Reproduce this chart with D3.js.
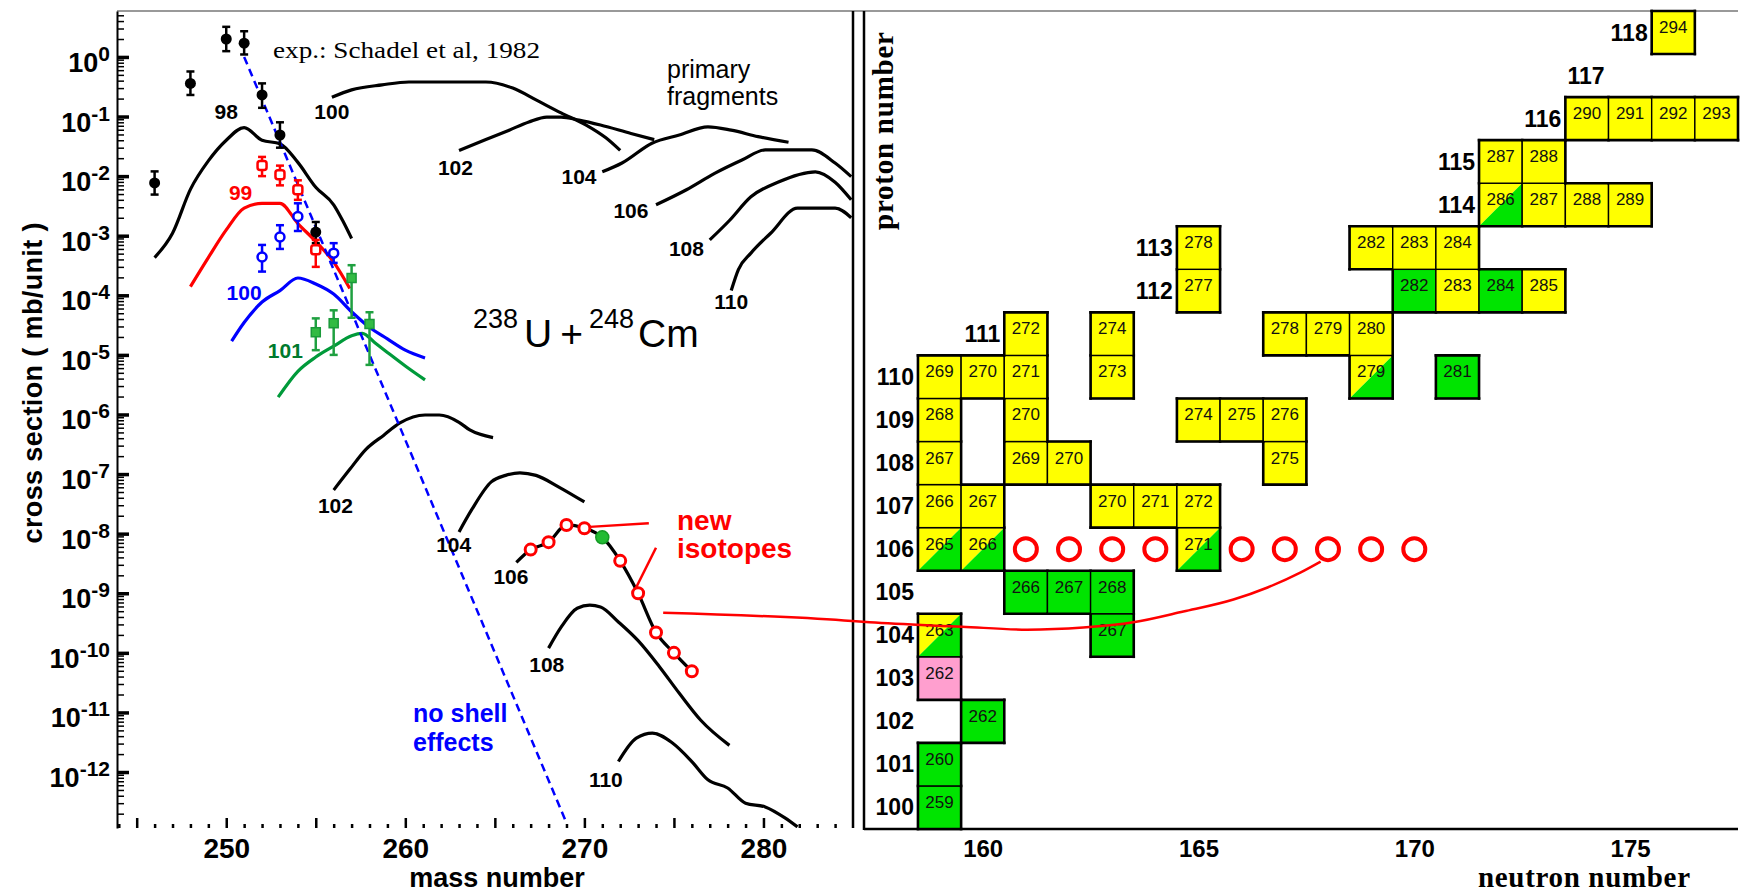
<!DOCTYPE html>
<html>
<head>
<meta charset="utf-8">
<script src="https://cdn.jsdelivr.net/npm/d3@7"></script>
<style>
  body { margin: 0; background: #fff; }
  svg { display: block; }
</style>
</head>
<body>
<div id="chart"></div>
<script>
// ---- left panel: model curves, [mass number, cross section (mb)] ----
const calc98 = [[246,4.3e-4],[247,1.1e-3],[248,6e-3],[249,1.8e-2],[250,4e-2],[251,6.5e-2],[252,4e-2],[253,3.5e-2],[254,1.7e-2],[255,6.5e-3],[256,3.3e-3],[256.5,1.8e-3],[257,9e-4]];
const calc99 = [[248,1.4e-4],[249,4.3e-4],[250,1.25e-3],[251,2.9e-3],[252,3.5e-3],[253,3.5e-3],[254,1.6e-3],[255,8e-4],[256,3.6e-4],[256.9,1.3e-4]];
const calc100 = [[250.3,1.7e-5],[251,3.5e-5],[252,7.7e-5],[253,1.2e-4],[254,1.95e-4],[255,1.55e-4],[256,1.05e-4],[257,5.3e-5],[258,2.9e-5],[259,1.85e-5],[260,1.2e-5],[261.1,8.9e-6]];
const calc101 = [[252.9,1.95e-6],[254,5.3e-6],[255,9.2e-6],[256,1.4e-5],[257,2.1e-5],[257.6,2.3e-5],[258.3,1.6e-5],[259,1.1e-5],[260,6.5e-6],[261.1,3.8e-6]];
const calc102 = [[256,5.4e-8],[256.9,1.2e-7],[257.8,2.6e-7],[258.8,4.5e-7],[259.7,7.2e-7],[261.1,9.8e-7],[261.9,9.8e-7],[263,7.4e-7],[263.6,5.5e-7],[264.9,4.1e-7]];
const calc104 = [[263,1.07e-8],[263.7,2.5e-8],[264.8,7.4e-8],[265.6,9.5e-8],[266.4,1.05e-7],[267.3,9.5e-8],[268.6,6e-8],[270,3.4e-8]];
const calc106 = [[266.2,3.3e-9],[267,5.4e-9],[268,7.2e-9],[269,1.4e-8],[270,1.23e-8],[271,8.7e-9],[272,3.5e-9],[273,1e-9],[274,2.2e-10],[275,1e-10],[276,4.9e-11]];
const calc108 = [[268,1.2e-10],[268.7,2.7e-10],[269.6,5.6e-10],[270.3,6.3e-10],[270.9,5.9e-10],[271.9,3.3e-10],[273,1.6e-10],[274.2,5.8e-11],[275.3,2.1e-11],[276.5,7.4e-12],[278.1,2.8e-12]];
const calc110 = [[271.9,1.5e-12],[272.9,3.7e-12],[273.8,4.5e-12],[274.9,3.1e-12],[276,1.5e-12],[276.9,7.4e-13],[278,5.4e-13],[279,3e-13],[280.1,2.6e-13],[281.2,1.7e-13],[281.9,1.2e-13]];

// primary fragments
const prim100 = [[255.9,0.21],[257,0.28],[258.7,0.34],[260.2,0.38],[264.5,0.38],[266,0.3],[267.3,0.19],[268.7,0.115],[270.1,0.072],[271.2,0.044],[272,0.027]];
const prim102 = [[263,0.027],[264.5,0.041],[265.8,0.059],[266.9,0.081],[267.9,0.098],[268.7,0.098],[269.7,0.087],[270.9,0.072],[272.6,0.052],[273.9,0.041]];
const prim104 = [[271,0.0118],[272.1,0.0166],[273.8,0.036],[275.3,0.049],[276.9,0.067],[278.2,0.059],[279.7,0.046],[281.4,0.037]];
const prim106 = [[274,3.3e-3],[275.7,5.9e-3],[277.3,0.0112],[278.8,0.0186],[280.1,0.0275],[282.7,0.0275],[284,0.0166],[284.9,9.8e-3]];
const prim108 = [[277,8.5e-4],[278.1,1.8e-3],[279.3,4.5e-3],[280.8,7.9e-3],[282.9,0.0118],[284,7.9e-3],[284.9,4e-3]];
const prim110 = [[278.2,1.2e-4],[278.6,2.7e-4],[279.3,5.1e-4],[280.4,1.1e-3],[281.9,2.9e-3],[284,2.9e-3],[284.9,2e-3]];

const noShell = [[251,1.0],[269,1.4e-13]];

// experiment (Schadel et al 1982): [mass, value, low, high]
const expCf = [[246,7.7e-3,4.9e-3,1.2e-2],[248,0.36,0.23,0.57],[250,2.0,1.25,3.2],[251,1.7,1.1,2.7],[252,0.23,0.14,0.36],[253,0.049,0.03,0.08],[255,1.15e-3,7.5e-4,1.7e-3]];
const expEs = [[252,1.5e-2,1.0e-2,2.1e-2],[253,1.05e-2,7e-3,1.5e-2],[254,5.9e-3,4e-3,8.5e-3],[255,5.8e-4,3e-4,8.5e-4]];
const expFm = [[252,4.4e-4,2.5e-4,7e-4],[253,9.5e-4,6e-4,1.5e-3],[254,2.1e-3,1.2e-3,3.5e-3],[256,5.1e-4,3.5e-4,7.5e-4]];
const expMd = [[255,2.4e-5,1.2e-5,4.1e-5],[256,3.4e-5,1.0e-5,5.6e-5],[257,1.95e-4,4.2e-5,3.2e-4],[258,3.3e-5,6.8e-6,5.2e-5]];

// Z=106 isotopes on the curve
const newIsotopes = [[267,5.4e-9],[268,7.2e-9],[269,1.4e-8],[270,1.23e-8],[272,3.5e-9],[273,1e-9],[274,2.2e-10],[275,1e-10],[276,4.9e-11]];
const knownSg = [[271,8.7e-9]];

// curve labels: [mass, value, text, colour]
const curveLabels = [
  [250.0,0.12,'98','#000'],[255.9,0.12,'100','#000'],[262.8,0.014,'102','#000'],
  [269.7,9.7e-3,'104','#000'],[272.6,2.7e-3,'106','#000'],[275.7,6e-4,'108','#000'],
  [278.2,7.8e-5,'110','#000'],
  [250.8,5.4e-3,'99','#ff0000'],[251.0,1.1e-4,'100','#0000ff'],[253.3,1.2e-5,'101','#007a2e'],
  [256.1,3e-8,'102','#000'],[262.7,6.5e-9,'104','#000'],[265.9,1.9e-9,'106','#000'],
  [267.9,6.3e-11,'108','#000'],[271.2,7.4e-13,'110','#000']
];

const massTicksMajor = [245,250,255,260,265,270,275,280];
const massTickLabels = [250,260,270,280];
const decades = [0,-1,-2,-3,-4,-5,-6,-7,-8,-9,-10,-11,-12];

// pointer lines of the "new isotopes" note
const pointerNew = [[273.6,1.5e-8],[270.3,1.3e-8]];
const pointerIso = [[274.0,5.8e-9],[272.8,1.1e-9]];
const linkStart = [[274.4,4.7e-10],[284.5,3.5e-10]];          // left panel part
const linkEnd = [[157.38,104.30],[159.52,104.20],[161.03,104.13],[162.33,104.18],[163.49,104.30],
  [164.65,104.55],[165.81,104.83],[166.6,105.11],[167.37,105.46],[167.83,105.71]]; // chart part [N, Z]

// ---- right panel: chart of nuclides, [Z, N, kind] ----
const cells = [
  [100,159,'g'],[101,159,'g'],[102,160,'g'],[103,159,'p'],[104,159,'d'],[104,163,'g'],
  [105,161,'g'],[105,162,'g'],[105,163,'g'],
  [106,159,'d'],[106,160,'d'],[106,165,'d'],
  [107,159,'y'],[107,160,'y'],[107,163,'y'],[107,164,'y'],[107,165,'y'],
  [108,159,'y'],[108,161,'y'],[108,162,'y'],[108,167,'y'],
  [109,159,'y'],[109,161,'y'],[109,165,'y'],[109,166,'y'],[109,167,'y'],
  [110,159,'y'],[110,160,'y'],[110,161,'y'],[110,163,'y'],[110,169,'d'],[110,171,'g'],
  [111,161,'y'],[111,163,'y'],[111,167,'y'],[111,168,'y'],[111,169,'y'],
  [112,165,'y'],[112,170,'g'],[112,171,'y'],[112,172,'g'],[112,173,'y'],
  [113,165,'y'],[113,169,'y'],[113,170,'y'],[113,171,'y'],
  [114,172,'d'],[114,173,'y'],[114,174,'y'],[114,175,'y'],
  [115,172,'y'],[115,173,'y'],
  [116,174,'y'],[116,175,'y'],[116,176,'y'],[116,177,'y'],
  [118,176,'y']
];
const sgCircles = [161,162,163,164,166,167,168,169,170]; // N at Z=106
const zLabels = [[100,159],[101,159],[102,159],[103,159],[104,159],[105,159],[106,159],[107,159],
  [108,159],[109,159],[110,159],[111,161],[112,165],[113,165],[114,172],[115,172],[116,174],[117,175],[118,176]];
const neutronTicks = [160,165,170,175];

const SANS = '"Liberation Sans", Arial, Helvetica, sans-serif';
const SERIF = '"Liberation Serif", "Times New Roman", serif';
const fillOf = { y: '#ffff00', g: '#00e400', p: '#ff9fcf' };

const svg = d3.select('#chart').append('svg').attr('width', 1745).attr('height', 896);

const xL = d3.scaleLinear().domain([243.9, 285]).range([117, 853]);
const yL = d3.scaleLog().domain([5.9, 1.15e-13]).range([11, 828]);
const xR = d3.scaleLinear().domain([157.25, 177.5]).range([864, 1738]);
const yR = d3.scaleLinear().domain([99.5, 118.5]).range([829, 11]);

// frames
svg.append('line').attr('x1', 117).attr('x2', 1738).attr('y1', 11).attr('y2', 11)
  .attr('stroke', '#777').attr('stroke-width', 1.5);
svg.append('line').attr('x1', 853).attr('x2', 853).attr('y1', 11).attr('y2', 828)
  .attr('stroke', '#000').attr('stroke-width', 2.5);
svg.append('line').attr('x1', 864).attr('x2', 864).attr('y1', 11).attr('y2', 830)
  .attr('stroke', '#000').attr('stroke-width', 2.5);
svg.append('line').attr('x1', 864).attr('x2', 1738).attr('y1', 829).attr('y2', 829)
  .attr('stroke', '#000').attr('stroke-width', 2.5);

// ---- left panel axes ----
const minorY = [];
for (let k = -13; k <= 0; k++) for (let m = 2; m <= 9; m++) {
  const v = m * Math.pow(10, k);
  if (v > 1.15e-13 && v < 5.9) minorY.push(v);
}
const yMinor = svg.append('g').attr('transform', 'translate(117,0)')
  .call(d3.axisLeft(yL).tickValues(minorY).tickSizeInner(-7).tickSizeOuter(0).tickFormat(''));
yMinor.selectAll('.tick line').attr('stroke-width', 1.5);
yMinor.select('.domain').attr('stroke-width', 2);
const yMajor = svg.append('g').attr('transform', 'translate(117,0)')
  .call(d3.axisLeft(yL).tickValues(decades.map(k => Math.pow(10, k))).tickSizeInner(-12).tickSizeOuter(0).tickFormat(''));
yMajor.selectAll('.tick line').attr('stroke-width', 3.5);
yMajor.select('.domain').remove();

const yLab = svg.append('g').attr('font-family', SANS).attr('font-weight', 'bold').attr('fill', '#000');
decades.forEach(k => {
  const t = yLab.append('text').attr('x', 110).attr('y', yL(Math.pow(10, k)) + 15).attr('text-anchor', 'end');
  t.append('tspan').attr('font-size', 27).text('10');
  t.append('tspan').attr('font-size', 21).attr('dy', -11).text(String(k));
});

const xMinor = svg.append('g').attr('transform', 'translate(0,828)')
  .call(d3.axisBottom(xL).tickValues(d3.range(244, 285).filter(d => d % 5 !== 0))
    .tickSizeInner(-4).tickSizeOuter(0).tickFormat(''));
xMinor.select('.domain').remove();
xMinor.selectAll('.tick line').attr('stroke-width', 2.5);
const xMajor = svg.append('g').attr('transform', 'translate(0,828)')
  .call(d3.axisBottom(xL).tickValues(massTicksMajor).tickSizeInner(-10).tickSizeOuter(0).tickPadding(10)
    .tickFormat(d => massTickLabels.includes(d) ? d : ''));
xMajor.select('.domain').remove();
xMajor.selectAll('.tick line').attr('stroke-width', 2.5);
xMajor.selectAll('text').attr('font-family', SANS).attr('font-size', 28).attr('font-weight', 'bold').attr('fill', '#000');

svg.append('text').attr('transform', 'translate(42,383) rotate(-90)').attr('text-anchor', 'middle')
  .attr('font-family', SANS).attr('font-weight', 'bold').attr('font-size', 27)
  .attr('textLength', 321).attr('lengthAdjust', 'spacing').text('cross section ( mb/unit )');
svg.append('text').attr('x', 497).attr('y', 887).attr('text-anchor', 'middle')
  .attr('font-family', SANS).attr('font-weight', 'bold').attr('font-size', 27).text('mass number');

// ---- left panel data ----
svg.append('clipPath').attr('id', 'clipL').append('rect')
  .attr('x', 117).attr('y', 11).attr('width', 736).attr('height', 817);
const plot = svg.append('g').attr('clip-path', 'url(#clipL)');
const line = d3.line().x(d => xL(d[0])).y(d => yL(d[1])).curve(d3.curveMonotoneX);

const curves = [
  [calc98, '#000'], [calc99, '#ff0000'], [calc100, '#0000ff'], [calc101, '#009a3a'],
  [calc102, '#000'], [calc104, '#000'], [calc106, '#000'], [calc108, '#000'], [calc110, '#000'],
  [prim100, '#000'], [prim102, '#000'], [prim104, '#000'], [prim106, '#000'], [prim108, '#000'], [prim110, '#000']
];
plot.selectAll('path.curve').data(curves).join('path').attr('class', 'curve')
  .attr('d', d => line(d[0])).attr('fill', 'none').attr('stroke', d => d[1])
  .attr('stroke-width', 3.2).attr('stroke-linejoin', 'round');

plot.append('path').attr('d', d3.line().x(d => xL(d[0])).y(d => yL(d[1]))(noShell))
  .attr('fill', 'none').attr('stroke', '#0000ff').attr('stroke-width', 2.5).attr('stroke-dasharray', '8,5');

function errBars(data, color) {
  const g = plot.append('g').attr('stroke', color).attr('stroke-width', 2.5);
  g.selectAll('line.v').data(data).join('line').attr('class', 'v')
    .attr('x1', d => xL(d[0])).attr('x2', d => xL(d[0])).attr('y1', d => yL(d[2])).attr('y2', d => yL(d[3]));
  g.selectAll('line.lo').data(data).join('line').attr('class', 'lo')
    .attr('x1', d => xL(d[0]) - 4).attr('x2', d => xL(d[0]) + 4).attr('y1', d => yL(d[2])).attr('y2', d => yL(d[2]));
  g.selectAll('line.hi').data(data).join('line').attr('class', 'hi')
    .attr('x1', d => xL(d[0]) - 4).attr('x2', d => xL(d[0]) + 4).attr('y1', d => yL(d[3])).attr('y2', d => yL(d[3]));
  return g;
}
errBars(expCf, '#000');
plot.selectAll('circle.cf').data(expCf).join('circle').attr('class', 'cf')
  .attr('cx', d => xL(d[0])).attr('cy', d => yL(d[1])).attr('r', 5.5).attr('fill', '#000');
errBars(expEs, '#ff0000');
plot.selectAll('rect.es').data(expEs).join('rect').attr('class', 'es')
  .attr('x', d => xL(d[0]) - 4.5).attr('y', d => yL(d[1]) - 4.5).attr('width', 9).attr('height', 9).attr('rx', 2.5)
  .attr('fill', '#fff').attr('stroke', '#ff0000').attr('stroke-width', 2.5);
errBars(expFm, '#0000ff');
plot.selectAll('circle.fm').data(expFm).join('circle').attr('class', 'fm')
  .attr('cx', d => xL(d[0])).attr('cy', d => yL(d[1])).attr('r', 4.5)
  .attr('fill', '#fff').attr('stroke', '#0000ff').attr('stroke-width', 2.5);
errBars(expMd, '#1fa040');
plot.selectAll('rect.md').data(expMd).join('rect').attr('class', 'md')
  .attr('x', d => xL(d[0]) - 4.5).attr('y', d => yL(d[1]) - 4.5).attr('width', 9).attr('height', 9)
  .attr('fill', '#33bb44').attr('stroke', '#1a9a3a').attr('stroke-width', 1.5);

// pointers to new isotopes
const pLine = d3.line().x(d => xL(d[0])).y(d => yL(d[1]));
plot.append('path').attr('d', pLine(pointerNew)).attr('stroke', '#ff0000').attr('stroke-width', 2.5).attr('fill', 'none');
plot.append('path').attr('d', pLine(pointerIso)).attr('stroke', '#ff0000').attr('stroke-width', 2.5).attr('fill', 'none');

plot.selectAll('circle.newiso').data(newIsotopes).join('circle').attr('class', 'newiso')
  .attr('cx', d => xL(d[0])).attr('cy', d => yL(d[1])).attr('r', 5.5)
  .attr('fill', '#fff').attr('stroke', '#ff0000').attr('stroke-width', 3);
plot.selectAll('circle.known').data(knownSg).join('circle').attr('class', 'known')
  .attr('cx', d => xL(d[0])).attr('cy', d => yL(d[1])).attr('r', 6.5)
  .attr('fill', '#22bb33').attr('stroke', '#159a25').attr('stroke-width', 1.5);

svg.append('g').selectAll('text').data(curveLabels).join('text')
  .attr('x', d => xL(d[0])).attr('y', d => yL(d[1])).attr('dy', '0.36em').attr('text-anchor', 'middle')
  .attr('font-family', SANS).attr('font-weight', 'bold').attr('font-size', 21).attr('fill', d => d[3])
  .text(d => d[2]);

// annotations on the left
svg.append('text').attr('x', 273).attr('y', 58).attr('font-family', SERIF).attr('font-size', 23)
  .attr('textLength', 267).attr('lengthAdjust', 'spacingAndGlyphs').text('exp.: Schadel et al, 1982');
const prim = svg.append('g').attr('font-family', SANS).attr('font-size', 25);
prim.append('text').attr('x', 667).attr('y', 78).text('primary');
prim.append('text').attr('x', 667).attr('y', 105).text('fragments');

const reac = svg.append('text').attr('x', 473).attr('y', 328).attr('font-family', SANS).attr('fill', '#000');
reac.append('tspan').attr('font-size', 27).text('238');
reac.append('tspan').attr('font-size', 39).attr('dy', 19).attr('dx', 6).text('U');
reac.append('tspan').attr('font-size', 39).attr('dx', 8).text('+');
reac.append('tspan').attr('font-size', 27).attr('dy', -19).attr('dx', 6).text('248');
reac.append('tspan').attr('font-size', 39).attr('dy', 19).attr('dx', 4).text('Cm');

const ns = svg.append('g').attr('font-family', SANS).attr('font-weight', 'bold').attr('font-size', 25).attr('fill', '#0000ff');
ns.append('text').attr('x', 413).attr('y', 722).text('no shell');
ns.append('text').attr('x', 413).attr('y', 751).text('effects');

const ni = svg.append('g').attr('font-family', SANS).attr('font-weight', 'bold').attr('font-size', 28).attr('fill', '#ff0000');
ni.append('text').attr('x', 677).attr('y', 530).text('new');
ni.append('text').attr('x', 677).attr('y', 558).text('isotopes');

// ---- right panel ----
const cw = xR(1) - xR(0), ch = yR(0) - yR(1);
const occupied = new Set(cells.map(d => d[0] + ':' + d[1]));
const cg = svg.append('g').selectAll('g').data(cells).join('g')
  .attr('transform', d => `translate(${xR(d[1] - 0.5)},${yR(d[0] + 0.5)})`);
cg.filter(d => d[2] !== 'd').append('rect').attr('width', cw).attr('height', ch).attr('fill', d => fillOf[d[2]]);
cg.filter(d => d[2] === 'd').append('path').attr('d', `M0,0H${cw}L0,${ch}Z`).attr('fill', fillOf.y);
cg.filter(d => d[2] === 'd').append('path').attr('d', `M0,${ch}H${cw}V0Z`).attr('fill', fillOf.g);
cg.append('rect').attr('width', cw).attr('height', ch).attr('fill', 'none').attr('stroke', '#000').attr('stroke-width', 1.4);
// heavier outline where a cell has no neighbour
cg.each(function (d) {
  const g = d3.select(this);
  const edges = [
    [d[0] + 1, d[1], 0, 0, cw, 0], [d[0] - 1, d[1], 0, ch, cw, ch],
    [d[0], d[1] - 1, 0, 0, 0, ch], [d[0], d[1] + 1, cw, 0, cw, ch]
  ];
  edges.filter(e => !occupied.has(e[0] + ':' + e[1])).forEach(e => {
    g.append('line').attr('x1', e[2]).attr('y1', e[3]).attr('x2', e[4]).attr('y2', e[5])
      .attr('stroke', '#000').attr('stroke-width', 2.6).attr('stroke-linecap', 'square');
  });
});
cg.append('text').attr('x', cw / 2).attr('y', 22).attr('text-anchor', 'middle')
  .attr('font-family', SANS).attr('font-size', 17).attr('fill', '#111').text(d => d[0] + d[1]);

svg.append('g').selectAll('circle').data(sgCircles).join('circle')
  .attr('cx', d => xR(d)).attr('cy', yR(106)).attr('r', 11)
  .attr('fill', 'none').attr('stroke', '#ff0000').attr('stroke-width', 4);

svg.append('g').selectAll('text').data(zLabels).join('text')
  .attr('x', d => xR(d[1] - 0.5) - 4).attr('y', d => yR(d[0]) + 8).attr('text-anchor', 'end')
  .attr('font-family', SANS).attr('font-weight', 'bold').attr('font-size', 23).text(d => d[0]);

const nAxis = svg.append('g').attr('transform', 'translate(0,829)')
  .call(d3.axisBottom(xR).tickValues(neutronTicks).tickSize(0).tickPadding(11).tickFormat(d3.format('d')));
nAxis.select('.domain').remove();
nAxis.selectAll('text').attr('font-family', SANS).attr('font-size', 24).attr('font-weight', 'bold').attr('fill', '#000');

svg.append('text').attr('x', 1584).attr('y', 887).attr('text-anchor', 'middle')
  .attr('font-family', SERIF).attr('font-weight', 'bold').attr('font-size', 29)
  .attr('textLength', 212).attr('lengthAdjust', 'spacing').text('neutron number');
svg.append('text').attr('transform', 'translate(893,131) rotate(-90)').attr('text-anchor', 'middle')
  .attr('font-family', SERIF).attr('font-weight', 'bold').attr('font-size', 29)
  .attr('textLength', 198).attr('lengthAdjust', 'spacing').text('proton number');

// red link from the Sg curve to the chart
const linkPts = linkStart.map(d => [xL(d[0]), yL(d[1])]).concat(linkEnd.map(d => [xR(d[0]), yR(d[1])]));
svg.append('path').attr('d', d3.line().curve(d3.curveMonotoneX)(linkPts))
  .attr('fill', 'none').attr('stroke', '#ff0000').attr('stroke-width', 2.5);
</script>
</body>
</html>
